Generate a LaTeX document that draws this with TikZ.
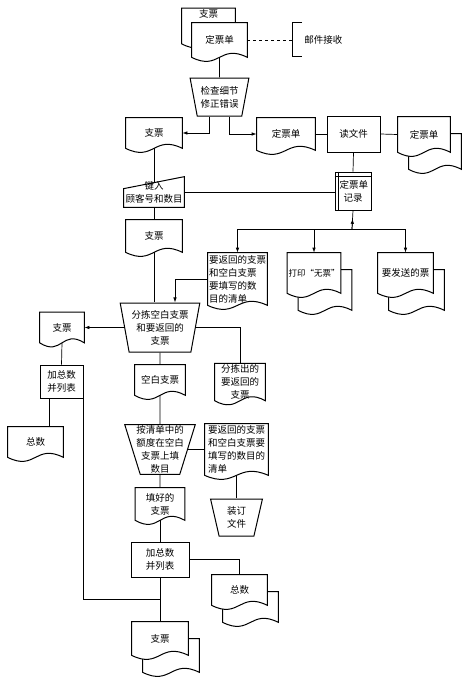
\documentclass[tikz,border=0pt]{standalone}
\usepackage{fontspec}
\newfontfamily\cjk{Noto Sans CJK SC}
\usetikzlibrary{shapes.geometric,arrows.meta,positioning,calc}

\tikzset{
  base/.style={inner sep=1pt, align=center, font=\cjk\fontsize{9.5pt}{13pt}\selectfont},
  edge/.style={line width=1pt, fill=white},
  doc/.style={base, append after command={\pgfextra{
      \draw[edge] (\tikzlastnode.south west)
        .. controls ($(\tikzlastnode.south)+(0,14)$) and ($(\tikzlastnode.south)+(0,-14)$) .. (\tikzlastnode.south east)
        -- (\tikzlastnode.north east) -- (\tikzlastnode.north west) -- cycle;}}},
  docs/.style={doc, prefix after command={\pgfextra{
      \draw[edge] ($(\tikzlastnode.south west)+(11,17)$)
        .. controls ($(\tikzlastnode.south)+(11,31)$) and ($(\tikzlastnode.south)+(11,3)$) .. ($(\tikzlastnode.south east)+(11,17)$)
        -- ($(\tikzlastnode.north east)+(11,17)$) -- ($(\tikzlastnode.north west)+(11,17)$) -- cycle;}}},
  proc/.style={base, draw, line width=0.85pt},
  manop/.style={base, draw, line width=1pt, trapezium, shape border rotate=180,
    trapezium stretches=true, trapezium angle=#1},
  keyin/.style={base, append after command={\pgfextra{
      \draw[edge] ($(\tikzlastnode.north west)+(0,12)$) -- (\tikzlastnode.north east)
        -- (\tikzlastnode.south east) -- (\tikzlastnode.south west) -- cycle;}}},
  store/.style={proc, append after command={\pgfextra{
      \draw[line width=0.5pt] ($(\tikzlastnode.north west)+(4,0)$) -- ($(\tikzlastnode.south west)+(4,0)$);
      \draw[line width=0.5pt] ($(\tikzlastnode.north west)+(0,5)$) -- ($(\tikzlastnode.north east)+(0,5)$);}}},
  arr/.style={-{Latex[length=5pt,width=3.5pt]}}
}

\begin{document}
\begin{tikzpicture}[x=1pt, y=-1pt, line width=0.7pt]
  \useasboundingbox (0,0) rectangle (470,685);

  % incoming mail
  \node[doc, minimum width=53, text depth=25pt] (chk0) at (208.5,26) {支票};
  \node[doc, minimum width=55, minimum height=34] (ord0) at (219.5,40) {定票单};
  \coordinate (brk) at (292,40);
  \node[base, right=11pt of brk] (mail) {邮件接收};
  \draw[dashed] (ord0.east) -- (brk);
  \draw[line width=1pt] ($(brk)+(10,-17)$) -- ($(brk)+(0,-17)$) -- ($(brk)+(0,17)$) -- ($(brk)+(10,17)$);

  % check
  \node[manop=75, minimum width=59, minimum height=38] (check) at (219.5,97) {检查细节\\修正错误};
  \draw (ord0.south) -- (check.north);

  % split into cheques and orders
  \node[doc, minimum width=56, minimum height=30] (chk1) at (154,133) {支票};
  \node[doc, minimum width=58, minimum height=32] (ord1) at (286,134) {定票单};
  \node[proc, minimum width=53, minimum height=36] (read) at (353.5,134) {读文件};
  \node[docs, minimum width=52, minimum height=35] (ord2) at (424,134.5) {定票单};
  \draw[arr] ($(check.south)+(-10,0)$) |- (chk1.east);
  \draw[arr] ($(check.south)+(10,0)$) |- (ord1.west);
  \draw (ord1.east) -- (read.west);
  \draw (read.east) -- (ord2.west);

  % order records
  \node[store, minimum width=36, minimum height=38] (store) at (353,191) {\,定票单\\记录};
  \draw (read.south) -- (store.north);

  % key in
  \node[keyin, minimum width=60, minimum height=30] (key) at (154,192) {键入\\顾客号和数目};
  \draw (chk1.south) -- ($(key.north)+(0,6)$);
  \draw (key.east) -- (key.east -| store.west);
  \node[doc, minimum width=56, minimum height=32] (chk2) at (154,236) {支票};
  \draw (key.south) -- (chk2.north);

  % outputs of the records
  \coordinate (bus) at (352,229);
  \node[doc, minimum width=59, minimum height=52, align=left] (list1) at (237.5,279) {要返回的支票\\和空白支票\\要填写的数\\目的清单};
  \node[docs, minimum width=52, minimum height=40, font=\cjk\fontsize{8.5pt}{12pt}\selectfont] (print) at (314,273) {打印“无票”};
  \node[docs, minimum width=55, minimum height=40] (send) at (405.5,273) {要发送的票};
  \draw (store.south) -- (bus);
  \draw[arr] (bus) -- ($(bus)!0.55!(store.south)$);
  \draw[arr] (bus) -| (list1.north);
  \draw[arr] (bus) -| (print.north);
  \draw[arr] (bus) -| (send.north);

  % sorting
  \node[manop=77, minimum width=80, minimum height=49] (sort) at (160,327.5) {分拣空白支票\\和要返回的\\支票};
  \draw (chk2.south) -- (chk2.south |- sort.north);
  \draw[arr] (list1.west) -| ($(sort.north)+(15,0)$);

  % left branch
  \node[doc, minimum width=44, minimum height=30] (chk3) at (62,327.5) {支票};
  \node[proc, minimum width=43, minimum height=33] (sum1) at (61.5,381.5) {加总数\\并列表};
  \node[doc, minimum width=55, minimum height=30] (total1) at (35.5,442) {总数};
  \draw[arr] (sort.west) -- (sort.west -| chk3.east);
  \draw (chk3.south) -- (sum1.north);
  \coordinate (s1a) at ($(sum1.south west)+(10,0)$);
  \draw (s1a) -- (s1a |- total1.north);

  % returned cheques
  \node[doc, minimum width=50, minimum height=35] (ret) at (240,382) {分拣出的\\要返回的\\支票};
  \draw (sort.east) -| (ret.north);

  % blank cheques
  \node[doc, minimum width=50, minimum height=30] (blank) at (160,380) {空白支票};
  \draw (sort.south) -- (blank.north);
  \node[manop=72.7, minimum width=68, minimum height=45, inner xsep=-4pt] (fillop) at (160,449.5) {按清单中的\\额度在空白\\支票上填\\数目};
  \draw (blank.south) -- (fillop.north);
  \node[doc, minimum width=63, minimum height=51, align=left] (list2) at (236.5,449.5) {要返回的支票\\和空白支票要\\填写的数目的\\清单};
  \draw (fillop.east) -- (fillop.east -| list2.west);
  \node[manop=77.8, minimum width=52, minimum height=37] (bind) at (236.5,517.5) {装订\\文件};
  \draw (list2.south) -- (bind.north);
  \node[doc, minimum width=49, minimum height=32] (done) at (160,504) {填好的\\支票};
  \draw (fillop.south) -- (done.north);
  \node[proc, minimum width=58, minimum height=35] (sum2) at (160,559.5) {加总数\\并列表};
  \draw (done.south) -- (sum2.north);
  \node[docs, minimum width=55, minimum height=30] (total2) at (239.5,590) {总数};
  \draw (sum2.east) -| (total2.north);
  \node[docs, minimum width=56, minimum height=33] (chk4) at (160,638.5) {支票};
  \draw (sum2.south) -- (chk4.north);
  \draw (sum1.south east) |- ($(sum2.south)!0.5!(chk4.north)$);
\end{tikzpicture}
\end{document}
